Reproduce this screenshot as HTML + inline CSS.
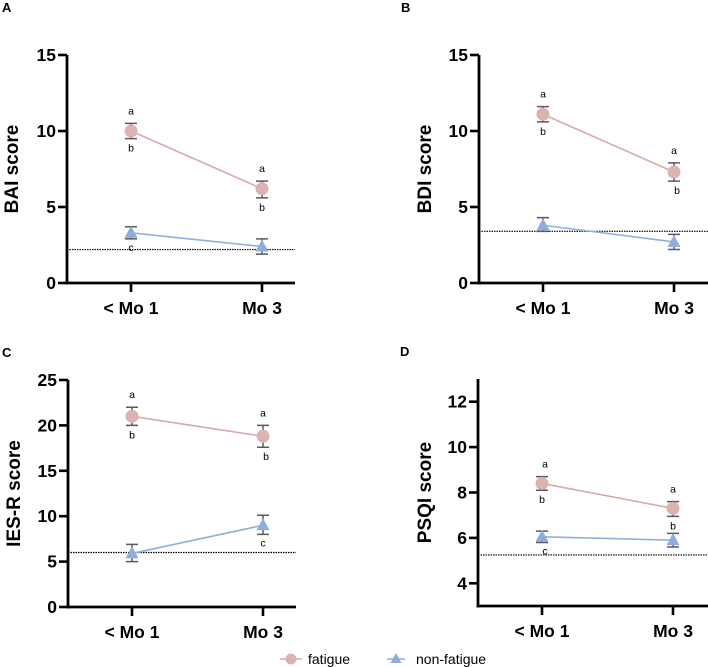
<!DOCTYPE html>
<html><head><meta charset="utf-8"><style>
body{margin:0;background:#fff;}
svg{display:block;font-family:"Liberation Sans",Arial,sans-serif;}
</style></head><body>
<svg id="fig" width="708" height="667" viewBox="0 0 708 667"></svg>
<script>
const categories = ["< Mo 1", "Mo 3"];
const panelLetters = ["A", "B", "C", "D"];
const yTitles = ["BAI score", "BDI score", "IES-R score", "PSQI score"];
const yMins = [0, 0, 0, 3];
const yMaxs = [15, 15, 25, 13];
const yTickLists = [[0,5,10,15],[0,5,10,15],[0,5,10,15,20,25],[4,6,8,10,12]];
const fatigueValues = [[10.0, 6.2],[11.1, 7.3],[21.0, 18.8],[8.4, 7.3]];
const fatigueLow = [[9.5, 5.6],[10.6, 6.7],[20.0, 17.6],[8.1, 6.95]];
const fatigueHigh = [[10.5, 6.7],[11.6, 7.9],[22.0, 20.0],[8.7, 7.6]];
const nonFatigueValues = [[3.3, 2.4],[3.8, 2.7],[5.9, 9.0],[6.05, 5.9]];
const nonFatigueLow = [[2.9, 1.9],[3.4, 2.2],[5.0, 8.0],[5.8, 5.6]];
const nonFatigueHigh = [[3.7, 2.9],[4.3, 3.2],[6.9, 10.1],[6.3, 6.2]];
const referenceLines = [2.2, 3.4, 6.0, 5.25];
const cLetterPanel = [0, 2, 3];
const cLetterCategory = [0, 1, 0];

const NS = "http://www.w3.org/2000/svg";
const svg = document.getElementById("fig");
function mk(tag, attrs, parent, text){
  const e = document.createElementNS(NS, tag);
  for (const k in attrs) e.setAttribute(k, attrs[k]);
  if (text !== undefined) e.textContent = text;
  (parent || svg).appendChild(e);
  return e;
}
const layouts = [
  [67, 55, 283, 295, 2, 12, 12],
  [479, 55, 283, 708, 401, 12, 425],
  [68, 380, 607, 296, 2, 357, 14],
  [478, 379, 606, 708, 400, 356, 425]
];
const PINK = "#d8aaa7", PINK_M = "#dcb3b0", BLUE = "#8fb0da", BLUE_M = "#8eaddb", ERR = "#5a5a5a";
const yFns = [];
const xPos = [];

for (let p = 0; p < 4; p++){
  const [ax, top, bot, right, lx, ly, tx] = layouts[p];
  const g = mk("g", {});
  
  
  const xs = [ax + 64, ax + 195];
  const y = v => bot - (v - yMins[p]) / (yMaxs[p] - yMins[p]) * (bot - top);
  yFns.push(y); xPos.push(xs);
  const lab = mk("text", {x: lx, y: ly, "font-size": 13, "font-weight": "bold"}, g, panelLetters[p]);
  
  
  const yax = mk("line", {x1: ax, y1: top, x2: ax, y2: bot + 1.4, stroke: "#000", "stroke-width": 2.8}, g);
  
  
  const xax = mk("line", {x1: ax - 1.4, y1: bot, x2: right, y2: bot, stroke: "#000", "stroke-width": 2.8}, g);
  
  
  yTickLists[p].forEach(t => {
    const yy = y(t);
    const tk = mk("line", {x1: ax - 9, y1: yy, x2: ax, y2: yy, stroke: "#000", "stroke-width": 2.6}, g);
    
    
    const tl = mk("text", {x: ax - 11, y: yy + 6, "font-size": 17.5, "font-weight": "bold", "text-anchor": "end"}, g, String(t));
    
    
  });
  categories.forEach((c, i) => {
    const tk = mk("line", {x1: xs[i], y1: bot, x2: xs[i], y2: bot + 9, stroke: "#000", "stroke-width": 2.6}, g);
    
    
    const tl = mk("text", {x: xs[i], y: bot + 31, "font-size": 17.5, "font-weight": "bold", "text-anchor": "middle"}, g, c);
    
    
  });
  const cy = (top + bot) / 2;
  const tt = mk("text", {x: tx, y: cy, "font-size": 19, "font-weight": "bold", "text-anchor": "middle", transform: `rotate(-90 ${tx} ${cy})`, dy: 6}, g, yTitles[p]);
  
  
  const rl = mk("line", {x1: ax, y1: y(referenceLines[p]), x2: right, y2: y(referenceLines[p]), stroke: "#000", "stroke-width": 1.2, "stroke-dasharray": "1.5,1"}, g);
  
  
  const series = [
    {v: fatigueValues[p], lo: fatigueLow[p], hi: fatigueHigh[p], col: PINK, mcol: PINK_M, shape: "circle", name: "fatigue"},
    {v: nonFatigueValues[p], lo: nonFatigueLow[p], hi: nonFatigueHigh[p], col: BLUE, mcol: BLUE_M, shape: "tri", name: "non-fatigue"}
  ];
  series.forEach(s => {
    const ln = mk("line", {x1: xs[0], y1: y(s.v[0]), x2: xs[1], y2: y(s.v[1]), stroke: s.col, "stroke-width": 1.6}, g);
    
    
    for (let i = 0; i < 2; i++){
      const eb = mk("path", {d: `M${xs[i]-6},${y(s.hi[i])}H${xs[i]+6}M${xs[i]},${y(s.hi[i])}V${y(s.lo[i])}M${xs[i]-6},${y(s.lo[i])}H${xs[i]+6}`, stroke: ERR, "stroke-width": 1.5, fill: "none"}, g);
      
      
      let m;
      const yy = y(s.v[i]);
      if (s.shape === "circle") m = mk("circle", {cx: xs[i], cy: yy, r: 6.5, fill: s.mcol}, g);
      else m = mk("polygon", {points: `${xs[i]},${yy-7} ${xs[i]-6.5},${yy+5} ${xs[i]+6.5},${yy+5}`, fill: s.mcol}, g);
      
      
    }
  });
  for (let i = 0; i < 2; i++){
    const ta = mk("text", {x: xs[i] + (p===3 && i===0 ? 3 : 0), y: y(fatigueHigh[p][i]) - 9, "font-size": 10.5, "text-anchor": "middle", fill: "#000"}, g, "a");
    
    
    const tb = mk("text", {x: xs[i] + ((p===1||p===2) && i===1 ? 3 : 0), y: y(fatigueLow[p][i]) + 13, "font-size": 10.5, "text-anchor": "middle", fill: "#000"}, g, "b");
    
    
  }
}
for (let k = 0; k < cLetterPanel.length; k++){
  const p = cLetterPanel[k], i = cLetterCategory[k];
  const tc = mk("text", {x: xPos[p][i] + (p===3 ? 3 : 0), y: yFns[p](nonFatigueLow[p][i]) + 12, "font-size": 10.5, "text-anchor": "middle", fill: "#000"}, svg, "c");
  
  
}
const lg = mk("g", {});


const e1 = mk("g", {}, lg);


mk("line", {x1: 280, y1: 659, x2: 302, y2: 659, stroke: PINK, "stroke-width": 1.5}, e1);
mk("circle", {cx: 291, cy: 659, r: 5.5, fill: PINK_M}, e1);
mk("text", {x: 308, y: 664, "font-size": 14}, e1, "fatigue");
const e2 = mk("g", {}, lg);


mk("line", {x1: 387, y1: 659, x2: 405, y2: 659, stroke: BLUE, "stroke-width": 1.5}, e2);
mk("polygon", {points: "396,653 390.5,663 401.5,663", fill: BLUE_M}, e2);
mk("text", {x: 416, y: 664, "font-size": 14}, e2, "non-fatigue");
</script>
</body></html>
